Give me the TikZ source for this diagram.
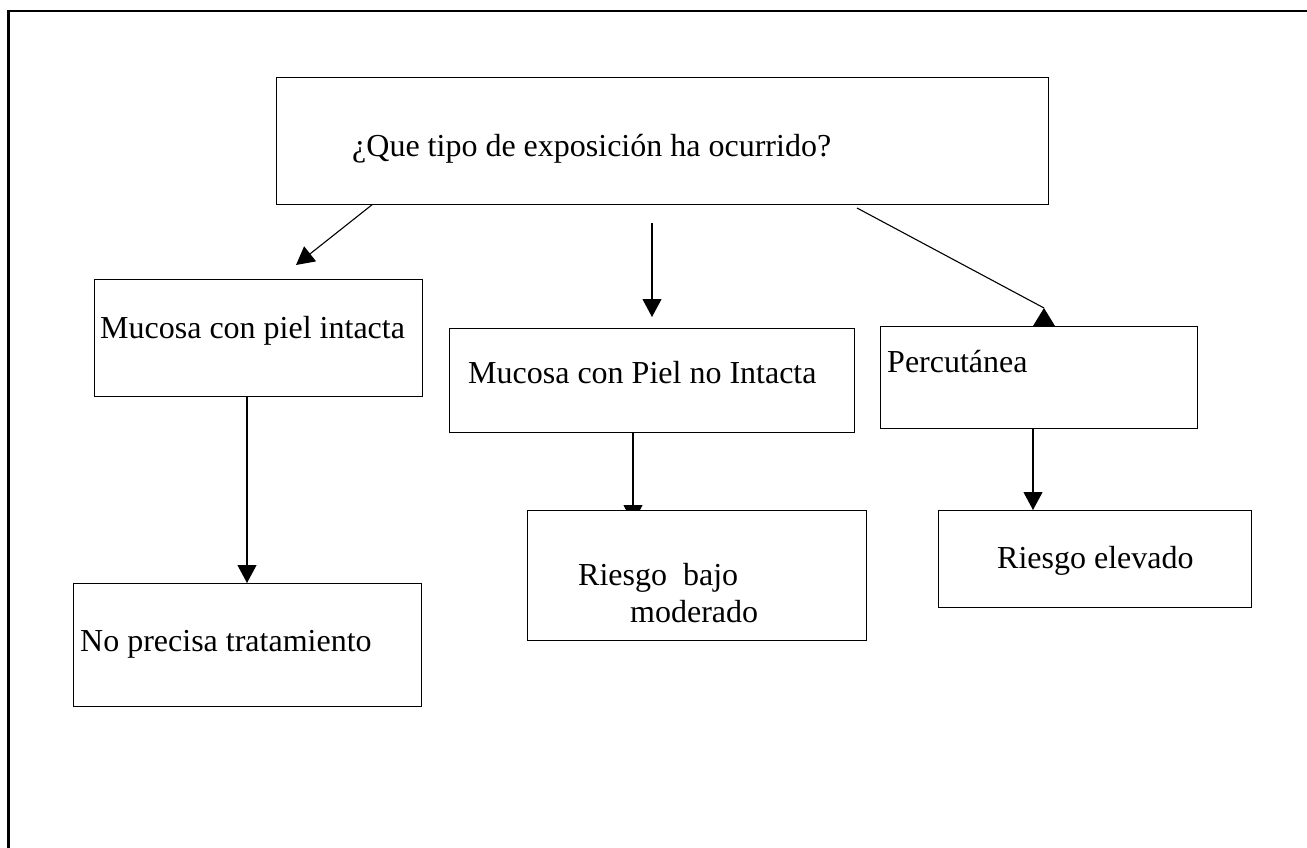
\documentclass[tikz,border=0pt]{standalone}
\usepackage{fontspec}
\setmainfont{Liberation Serif}
\usetikzlibrary{arrows.meta}
\begin{document}
\begin{tikzpicture}[x=1pt,y=-1pt,
  box/.style={draw, line width=1.3pt, fill=white, rectangle, anchor=north west, inner sep=0pt},
  lbl/.style={anchor=base west, inner sep=0pt, font=\fontsize{32}{37}\selectfont},
  conn/.style={line width=1.1pt, -{Triangle[width=19pt,length=18pt]}},
  plain/.style={line width=1.1pt}]
\useasboundingbox (0,0) rectangle (1307,848);
\draw[line width=2.2pt] (8.5,850) -- (8.5,10.7) -- (1310,10.7);
% connector coordinates
\coordinate (a1s) at (373,204);
\coordinate (a1e) at (296,265);
\coordinate (a2s) at (652,223);
\coordinate (a2e) at (652,317);
\coordinate (a3s) at (857,208);
\coordinate (a3e) at (1044,308);
\coordinate (a4s) at (633,432);
\coordinate (a4e) at (633,523);
\coordinate (a5s) at (1033,428);
\coordinate (a5e) at (1033,510);
\coordinate (a6s) at (247,396);
\coordinate (a6e) at (247,583);
% connectors
\draw[conn] (a1s) -- (a1e);
\draw[conn] (a2s) -- (a2e);
\draw[plain] (a3s) -- (a3e);
\fill (a3e) -- ++(-11,18) -- ++(22,0) -- cycle;
\draw[conn] (a4s) -- (a4e);
\draw[conn] (a5s) -- (a5e);
\draw[conn] (a6s) -- (a6e);
% boxes
\node[box, minimum width=772pt, minimum height=127pt] (top) at (276,77) {};
\node[box, minimum width=328pt, minimum height=117pt] (mpi) at (94,279) {};
\node[box, minimum width=405pt, minimum height=104pt] (mpn) at (449,328) {};
\node[box, minimum width=317pt, minimum height=102pt] (per) at (880,326) {};
\node[box, minimum width=339pt, minimum height=130pt] (rbm) at (527,510) {};
\node[box, minimum width=313pt, minimum height=97pt] (rel) at (938,510) {};
\node[box, minimum width=348pt, minimum height=123pt] (npt) at (73,583) {};
% texts
\node[lbl] (ttop) at (352,157) {¿Que tipo de exposición ha ocurrido?};
\node[lbl] (tmpi) at (100,338) {Mucosa con piel intacta};
\node[lbl] (tmpn) at (468,383) {Mucosa con Piel no Intacta};
\node[lbl] (tper) at (887,372) {Percutánea};
\node[lbl] (trb1) at (578,585) {Riesgo\ \ bajo};
\node[lbl] (trb2) at (630,622) {moderado};
\node[lbl] (trel) at (997,568) {Riesgo elevado};
\node[lbl] (tnpt) at (80,651) {No precisa tratamiento};
\end{tikzpicture}
\end{document}
